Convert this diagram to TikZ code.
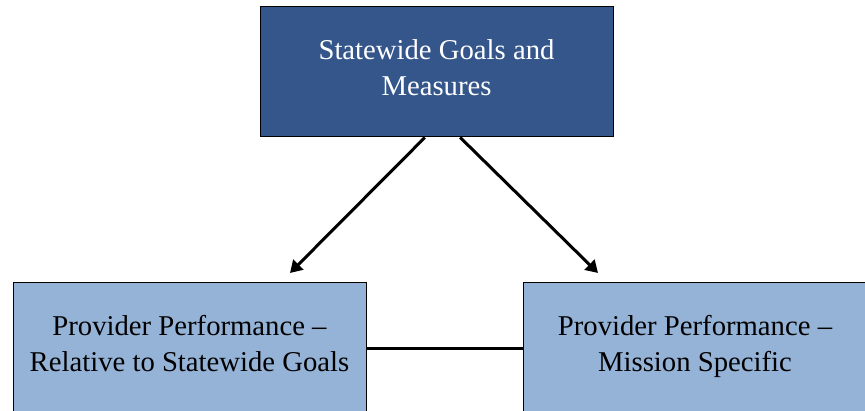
\documentclass[tikz,border=0pt]{standalone}
\usepackage{fontspec}
\setmainfont{Liberation Serif}
\usetikzlibrary{arrows.meta,calc}
\definecolor{darkbox}{RGB}{52,86,139}
\definecolor{lightbox}{RGB}{149,179,215}
\tikzset{
  boxbase/.style={draw=black, line width=1pt, rectangle, inner sep=0pt, align=center,
    font=\fontsize{28.7}{36}\selectfont},
  topbox/.style={boxbase, fill=darkbox, text=white, minimum width=353pt, minimum height=130pt},
  lowbox/.style={boxbase, fill=lightbox, text=black, minimum height=131pt},
  arrowline/.style={line width=3pt, -{Triangle[length=12pt,width=14pt]}},
  plainline/.style={line width=2.5pt}
}
\begin{document}
\begin{tikzpicture}[x=1pt,y=-1pt]
\useasboundingbox (0,0) rectangle (865,411);
\clip (0,0) rectangle (865,411);
\fill[white] (0,0) rectangle (865,411);
\node[topbox] (top) at (436.5,72) {\strut Statewide Goals and\\\strut Measures\rule[-13.2pt]{0pt}{0pt}};
\node[lowbox, minimum width=353pt] (left) at (189.5,348.5) {\strut Provider Performance –\\\strut Relative to Statewide Goals\rule[-15.6pt]{0pt}{0pt}};
\node[lowbox, minimum width=344pt] (right) at (695,348.5) {\strut Provider Performance –\\\strut Mission Specific\rule[-15.6pt]{0pt}{0pt}};
\coordinate (ltip) at (290,273);
\coordinate (rtip) at (598,273);
\draw[arrowline] ($(top.south west)!0.467!(top.south east)$) -- (ltip);
\draw[arrowline] ($(top.south west)!0.567!(top.south east)$) -- (rtip);
\draw[plainline] (left.east) -- (right.west);
\end{tikzpicture}
\end{document}
